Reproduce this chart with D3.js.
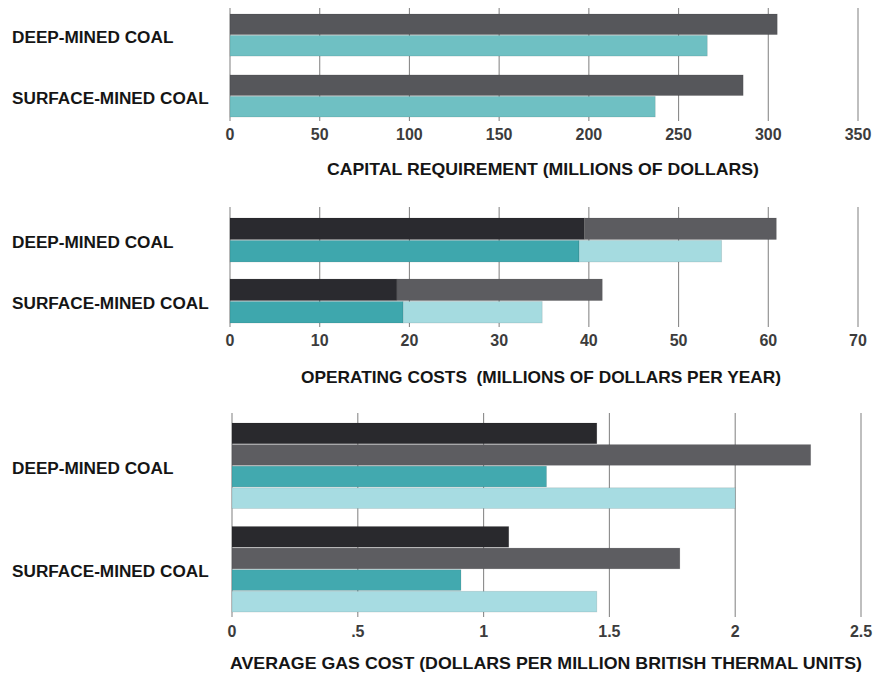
<!DOCTYPE html>
<html>
<head>
<meta charset="utf-8">
<script src="https://cdn.jsdelivr.net/npm/d3@7"></script>
<style>
  body { margin: 0; background: #fff; }
  text { font-family: "Liberation Sans", Arial, sans-serif; }
</style>
</head>
<body>
<div id="chart"></div>
<script>
// categories
const groups = ["DEEP-MINED COAL", "SURFACE-MINED COAL"];

// capital requirement (millions of dollars)
const capitalTicks = [0, 50, 100, 150, 200, 250, 300, 350];
const capitalGray = [305, 286];
const capitalTeal = [266, 237];

// operating costs (millions of dollars per year), two stacked segments per bar
const opTicks = [0, 10, 20, 30, 40, 50, 60, 70];
const opBlack = [39.5, 18.6];
const opGrayRest = [21.4, 22.9];
const opTeal = [38.9, 19.3];
const opLightRest = [15.9, 15.5];

// average gas cost (dollars per million BTU)
const gasTicks = [0, 0.5, 1, 1.5, 2, 2.5];
const gasTickLabels = ["0", ".5", "1", "1.5", "2", "2.5"];
const gasBlack = [1.45, 1.10];
const gasGray = [2.30, 1.78];
const gasTeal = [1.25, 0.91];
const gasLight = [2.00, 1.45];

const width = 878;
const height = 677;

const svg = d3
  .select("#chart")
  .append("svg")
  .attr("width", width)
  .attr("height", height);

// draws one panel: gridlines, bars, tick labels, group labels, title
const drawPanel = (cfg) => {
  const x = d3.scaleLinear().domain(cfg.domain).range(cfg.xRange);
  const y = d3
    .scaleBand()
    .domain(groups)
    .range(cfg.yRange)
    .paddingInner(cfg.groupPad)
    .paddingOuter(0);
  const inner = d3
    .scaleBand()
    .domain(d3.range(cfg.rows.length))
    .range([0, y.bandwidth()])
    .paddingInner(0.04);

  const g = svg.append("g");

  // gridlines
  g.selectAll(".grid")
    .data(cfg.ticks)
    .enter()
    .append("line")
    .attr("x1", (d) => x(d))
    .attr("x2", (d) => x(d))
    .attr("y1", cfg.gridY[0])
    .attr("y2", cfg.gridY[1])
    .style("stroke", "#8a8a8a")
    .style("stroke-width", 1.1);

  // bars (each row is a list of segments [start, end, color])
  groups.forEach((grp, gi) => {
    cfg.rows.forEach((row, ri) => {
      row(gi).forEach((seg) => {
        g.append("rect")
          .attr("x", x(seg[0]))
          .attr("y", y(grp) + inner(ri))
          .attr("width", x(seg[1]) - x(seg[0]))
          .attr("height", inner.bandwidth())
          .style("fill", seg[2])
          .style("stroke", "rgba(0,0,0,0.12)")
          .style("stroke-width", 0.8);
      });
    });

    g.append("text")
      .attr("x", 12)
      .attr("y", y(grp) + y.bandwidth() / 2 + 2)
      .attr("dy", "0.36em")
      .style("font-size", "17.2px")
      .style("font-weight", "bold")
      .style("fill", "#151515")
      .text(grp);
  });

  // tick labels
  g.selectAll(".tick-label")
    .data(cfg.ticks)
    .enter()
    .append("text")
    .attr("x", (d) => x(d))
    .attr("y", cfg.tickY)
    .attr("text-anchor", "middle")
    .style("font-size", "16px")
    .style("font-weight", "bold")
    .style("fill", "#3c3c3c")
    .text((d, i) => (cfg.tickLabels ? cfg.tickLabels[i] : d));

  // axis title
  g.append("text")
    .attr("x", cfg.titleX)
    .attr("y", cfg.titleY)
    .attr("text-anchor", "middle")
    .attr("textLength", cfg.titleW)
    .attr("lengthAdjust", "spacingAndGlyphs")
    .style("white-space", "pre")
    .style("font-size", "16.5px")
    .style("font-weight", "bold")
    .style("fill", "#151515")
    .text(cfg.title);
};

// capital requirement
drawPanel({
  domain: [0, 350],
  xRange: [230, 858],
  yRange: [14, 117],
  groupPad: 0.31,
  gridY: [8, 121],
  ticks: capitalTicks,
  tickY: 140,
  rows: [
    (i) => [[0, capitalGray[i], "#56575b"]],
    (i) => [[0, capitalTeal[i], "#6fc0c3"]],
  ],
  title: "CAPITAL REQUIREMENT (MILLIONS OF DOLLARS)",
  titleX: 543,
  titleY: 175,
  titleW: 432,
});

// operating costs
drawPanel({
  domain: [0, 70],
  xRange: [230, 858],
  yRange: [218, 323],
  groupPad: 0.28,
  gridY: [207, 327],
  ticks: opTicks,
  tickY: 346,
  rows: [
    (i) => [
      [0, opBlack[i], "#2a2a2f"],
      [opBlack[i], opBlack[i] + opGrayRest[i], "#5c5c60"],
    ],
    (i) => [
      [0, opTeal[i], "#3ea7ad"],
      [opTeal[i], opTeal[i] + opLightRest[i], "#a5dbe0"],
    ],
  ],
  title: "OPERATING COSTS  (MILLIONS OF DOLLARS PER YEAR)",
  titleX: 541,
  titleY: 383,
  titleW: 480,
});

// average gas cost
drawPanel({
  domain: [0, 2.5],
  xRange: [232, 861],
  yRange: [423, 612],
  groupPad: 0.174,
  gridY: [413, 617],
  ticks: gasTicks,
  tickLabels: gasTickLabels,
  tickY: 637,
  rows: [
    (i) => [[0, gasBlack[i], "#29292d"]],
    (i) => [[0, gasGray[i], "#5d5d61"]],
    (i) => [[0, gasTeal[i], "#42a9af"]],
    (i) => [[0, gasLight[i], "#a7dce2"]],
  ],
  title: "AVERAGE GAS COST (DOLLARS PER MILLION BRITISH THERMAL UNITS)",
  titleX: 546,
  titleY: 669,
  titleW: 632,
});
</script>
</body>
</html>
